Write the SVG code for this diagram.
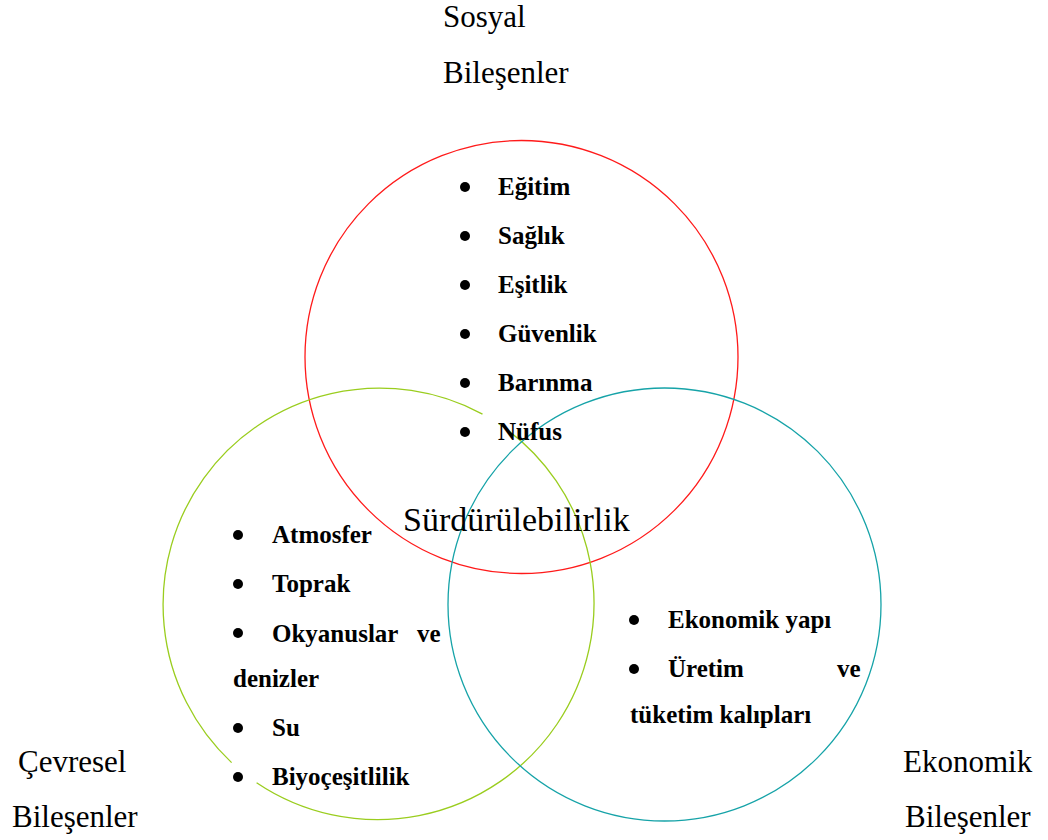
<svg xmlns="http://www.w3.org/2000/svg" width="1048" height="840" viewBox="0 0 1048 840">
<style>
.lbl{font-family:"Liberation Serif","Times New Roman",serif;font-size:31px;fill:#000}
.center{font-family:"Liberation Serif","Times New Roman",serif;font-size:34px;fill:#000}
.item{font-family:"Liberation Serif","Times New Roman",serif;font-size:25px;font-weight:bold;fill:#000}
.dot{fill:#000}
.ring{fill:none;stroke-width:1.3}
</style>
<rect width="1048" height="840" fill="#fff"/>
<g id="connectors"></g>
<g id="circle-sosyal">
<circle class="ring" cx="521.5" cy="357" r="216.5" stroke="#ff1a1a"/>
</g>
<g id="circle-cevresel">
<path class="ring" stroke="#9acd1e" d="M231.6,762.6 A216.5,216.5 0 0 1 482.5,414.1 M498.4,423.5 A216.5,216.5 0 1 1 256.6,782.7"/>
</g>
<g id="circle-ekonomik">
<circle class="ring" cx="664.5" cy="604.5" r="216.5" stroke="#16a3a8"/>
</g>
<g id="label-sosyal">
<text class="lbl" x="443" y="27">Sosyal</text>
<text class="lbl" x="443" y="83">Bileşenler</text>
</g>
<g id="label-cevresel">
<text class="lbl" x="18" y="772">Çevresel</text>
<text class="lbl" x="12" y="827">Bileşenler</text>
</g>
<g id="label-ekonomik">
<text class="lbl" x="903" y="772">Ekonomik</text>
<text class="lbl" x="905" y="827">Bileşenler</text>
</g>
<g id="center">
<text class="center" x="403" y="531">Sürdürülebilirlik</text>
</g>
<g id="list-sosyal">
<circle class="dot" cx="465" cy="187" r="5"/><text class="item" x="498" y="195">Eğitim</text>
<circle class="dot" cx="465" cy="236" r="5"/><text class="item" x="498" y="244">Sağlık</text>
<circle class="dot" cx="465" cy="285" r="5"/><text class="item" x="498" y="293">Eşitlik</text>
<circle class="dot" cx="465" cy="334" r="5"/><text class="item" x="498" y="342">Güvenlik</text>
<circle class="dot" cx="465" cy="383" r="5"/><text class="item" x="498" y="391">Barınma</text>
<circle class="dot" cx="465" cy="432" r="5"/><text class="item" x="498" y="440">Nüfus</text>
</g>
<g id="list-cevresel">
<circle class="dot" cx="238" cy="535" r="5"/><text class="item" x="272" y="543">Atmosfer</text>
<circle class="dot" cx="238" cy="584" r="5"/><text class="item" x="272" y="592">Toprak</text>
<circle class="dot" cx="238" cy="633" r="5"/><text class="item" x="272" y="642">Okyanuslar</text><text class="item" x="417" y="642">ve</text>
<text class="item" x="233" y="687">denizler</text>
<circle class="dot" cx="238" cy="728" r="5"/><text class="item" x="272" y="736">Su</text>
<circle class="dot" cx="238" cy="777" r="5"/><text class="item" x="272" y="785">Biyoçeşitlilik</text>
</g>
<g id="list-ekonomik">
<circle class="dot" cx="634" cy="620" r="5"/><text class="item" x="668" y="628">Ekonomik yapı</text>
<circle class="dot" cx="634" cy="669" r="5"/><text class="item" x="668" y="677">Üretim</text><text class="item" x="837" y="677">ve</text>
<text class="item" x="630" y="723">tüketim kalıpları</text>
</g>
</svg>
